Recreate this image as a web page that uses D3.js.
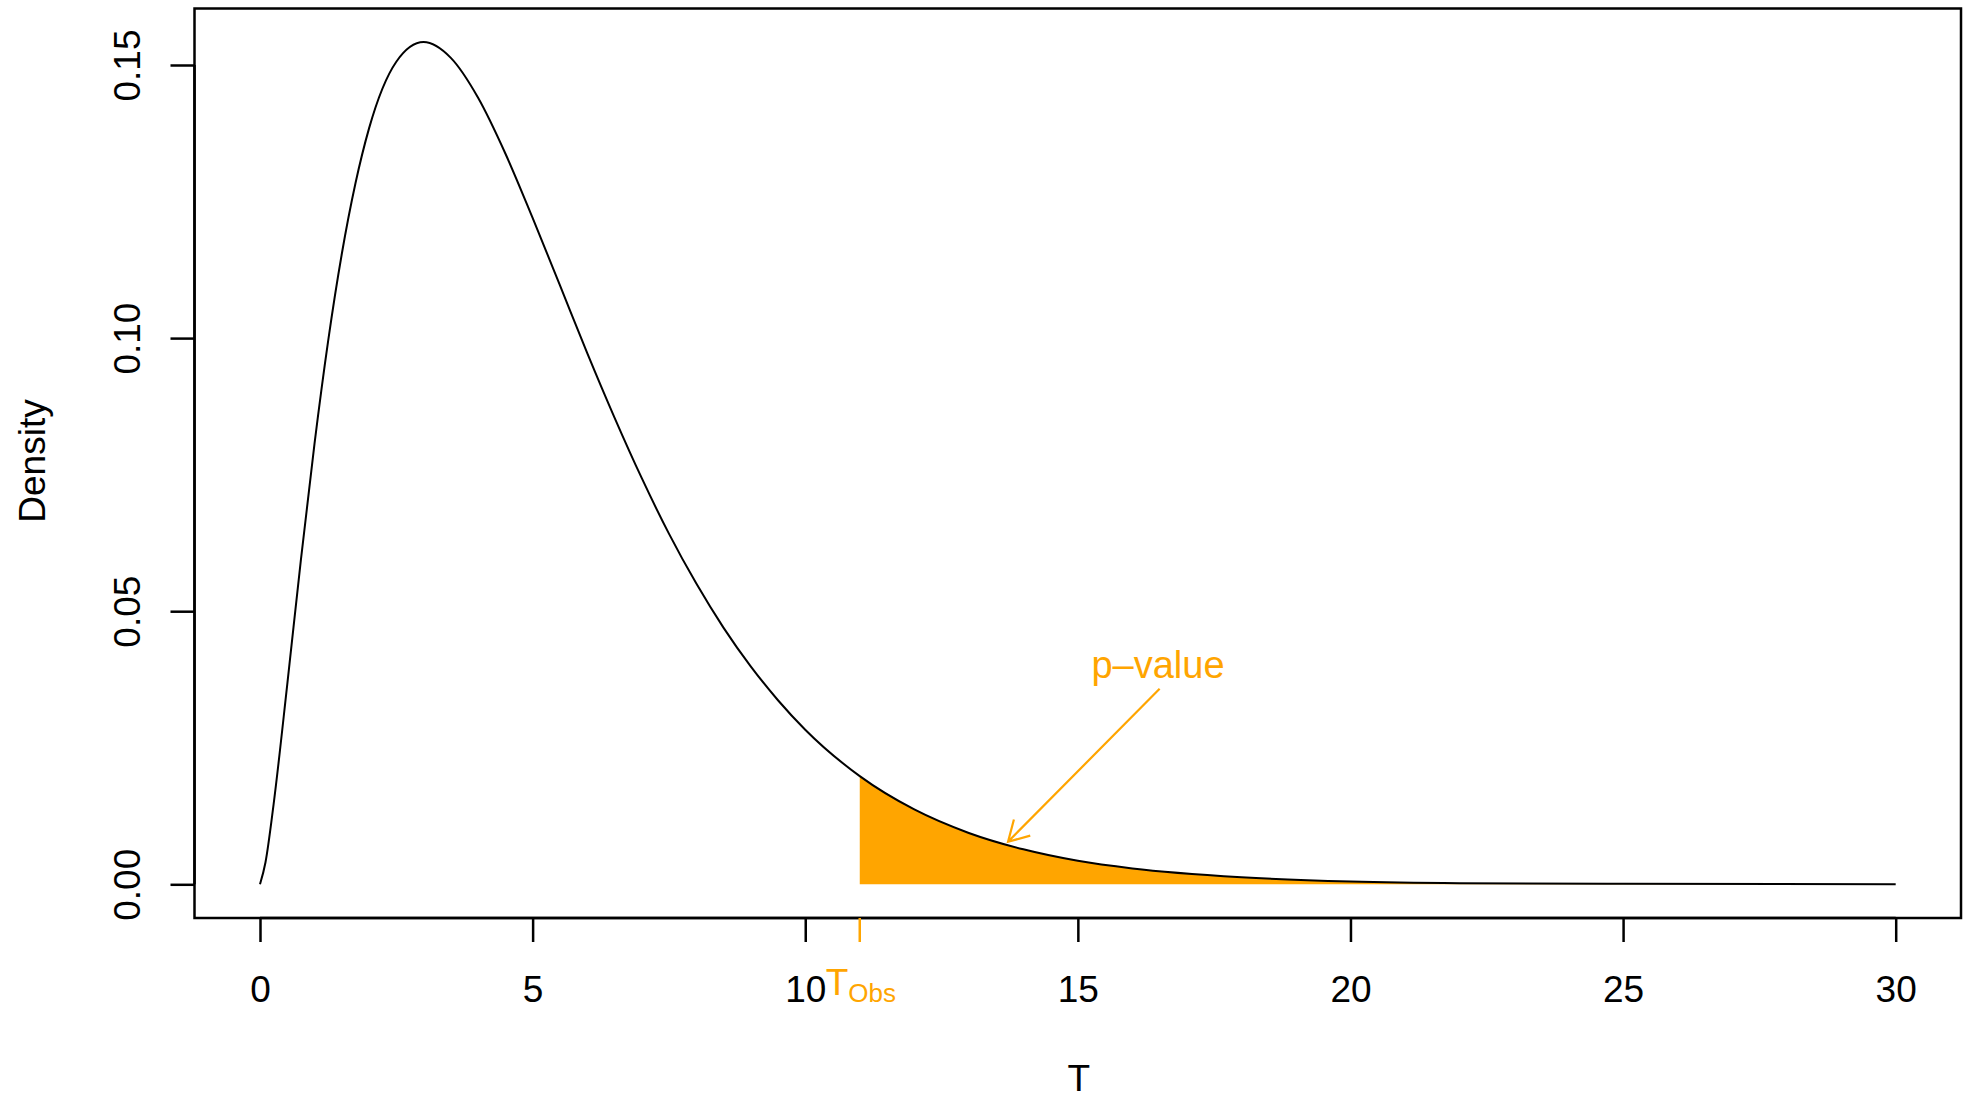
<!DOCTYPE html>
<html>
<head>
<meta charset="utf-8">
<script src="https://cdn.jsdelivr.net/npm/d3@7"></script>
<style>
  html, body { margin: 0; padding: 0; background: #fff; }
  svg { display: block; font-family: "Liberation Sans", Arial, Helvetica, sans-serif; }
</style>
</head>
<body>
<svg id="chart" width="1966" height="1098"></svg>
<script>
// density curve, values
const tValues = [0, 0.1, 0.25, 0.5, 0.75, 1, 1.25, 1.5, 1.75, 2, 2.5, 3, 3.5, 4, 4.5, 5, 5.5, 6, 6.5, 7, 7.5,
  8, 8.5, 9, 9.5, 10, 11, 12, 13, 14, 15, 16, 18, 20, 22, 25, 30];
const densityValues = [0, 0.0040, 0.0147, 0.0366, 0.0594, 0.0807, 0.0995, 0.1154, 0.1283, 0.1384, 0.1506,
  0.1542, 0.1513, 0.1440, 0.1338, 0.1220, 0.1097, 0.0973, 0.0855, 0.0744, 0.0642, 0.0551, 0.0470, 0.0399,
  0.0337, 0.0283, 0.0198, 0.0137, 0.0094, 0.0064, 0.0043, 0.0029, 0.0013, 0.0005, 0.0002, 0.0001, 0.0000];

const xTicks = [0, 5, 10, 15, 20, 25, 30];
const yTicks = [0, 0.05, 0.10, 0.15];
const tObs = 11;
// arrow from label to shaded tail: [x, y] in data units
const arrowFrom = [16.5, 0.0358];
const arrowTo = [13.72, 0.0078];
const labelAt = [16.47, 0.0382];

const orange = '#FFA500';

const svg = d3.select('#chart');

const box = { left: 194.5, right: 1961, top: 8.5, bottom: 918 };

const x = d3.scaleLinear().domain([0, 30]).range([260, 1895.7]);
const y = d3.scaleLinear().domain([0, 0.15]).range([884.3, 65]);

const points = tValues.map((t, i) => ({ t: t, d: densityValues[i] }));
const tail = points.filter(p => p.t >= tObs);

// shaded p-value area
svg.append('path')
  .datum(tail)
  .attr('fill', orange)
  .attr('d', d3.area()
    .x(p => x(p.t))
    .y0(y(0))
    .y1(p => y(p.d))
    .curve(d3.curveMonotoneX));

// density curve
svg.append('path')
  .datum(points)
  .attr('fill', 'none')
  .attr('stroke', '#000')
  .attr('stroke-width', 2)
  .attr('d', d3.line()
    .x(p => x(p.t))
    .y(p => y(p.d))
    .curve(d3.curveMonotoneX));

// x axis
const xAxis = svg.append('g')
  .attr('transform', `translate(0,${box.bottom})`)
  .call(d3.axisBottom(x).tickValues(xTicks).tickSize(24).tickPadding(34).tickFormat(d3.format('d')));
xAxis.select('.domain').attr('stroke-width', 2.5).attr('d', `M${x(0)},0H${x(30)}`);
xAxis.selectAll('.tick line').attr('stroke-width', 2.5);
xAxis.selectAll('.tick text').attr('font-size', 37).attr('fill', '#000');

// y axis
const yAxis = svg.append('g')
  .attr('transform', `translate(${box.left},0)`)
  .call(d3.axisLeft(y).tickValues(yTicks).tickSize(24).tickFormat(d3.format('.2f')));
yAxis.select('.domain').attr('stroke-width', 2.5).attr('d', `M0,${y(0)}V${y(0.15)}`);
yAxis.selectAll('.tick line').attr('stroke-width', 2.5);
yAxis.selectAll('.tick text')
  .attr('font-size', 37)
  .attr('fill', '#000')
  .attr('x', null)
  .attr('dy', null)
  .attr('text-anchor', 'middle')
  .attr('transform', 'translate(-55,0) rotate(-90)');

// plot box
svg.append('rect')
  .attr('x', box.left)
  .attr('y', box.top)
  .attr('width', box.right - box.left)
  .attr('height', box.bottom - box.top)
  .attr('fill', 'none')
  .attr('stroke', '#000')
  .attr('stroke-width', 2.5);

// observed statistic tick and label
svg.append('line')
  .attr('x1', x(tObs)).attr('x2', x(tObs))
  .attr('y1', box.bottom).attr('y2', box.bottom + 24)
  .attr('stroke', orange)
  .attr('stroke-width', 2.5);

const obsLabel = svg.append('text')
  .attr('x', x(tObs) - 34)
  .attr('y', 995)
  .attr('fill', orange)
  .attr('font-size', 37);
obsLabel.append('tspan').text('T');
obsLabel.append('tspan').attr('font-size', 26).attr('dy', 7).text('Obs');

// axis titles
svg.append('text')
  .attr('x', x(15) + 1)
  .attr('y', 1091)
  .attr('text-anchor', 'middle')
  .attr('font-size', 37)
  .text('T');

svg.append('text')
  .attr('transform', 'translate(45,461) rotate(-90)')
  .attr('text-anchor', 'middle')
  .attr('font-size', 37)
  .text('Density');

// p-value label and arrow
svg.append('text')
  .attr('x', x(labelAt[0]))
  .attr('y', y(labelAt[1]) + 2)
  .attr('text-anchor', 'middle')
  .attr('font-size', 38)
  .attr('fill', orange)
  .text('p\u2013value');

const ax0 = x(arrowFrom[0]), ay0 = y(arrowFrom[1]);
const ax1 = x(arrowTo[0]), ay1 = y(arrowTo[1]);
const ang = Math.atan2(ay1 - ay0, ax1 - ax0);
const headLen = 23;
const headAng = Math.PI / 6;

svg.append('path')
  .attr('fill', 'none')
  .attr('stroke', orange)
  .attr('stroke-width', 2.2)
  .attr('d',
    `M${ax0},${ay0}L${ax1},${ay1}` +
    `M${ax1 - headLen * Math.cos(ang - headAng)},${ay1 - headLen * Math.sin(ang - headAng)}` +
    `L${ax1},${ay1}` +
    `L${ax1 - headLen * Math.cos(ang + headAng)},${ay1 - headLen * Math.sin(ang + headAng)}`);
</script>
</body>
</html>
